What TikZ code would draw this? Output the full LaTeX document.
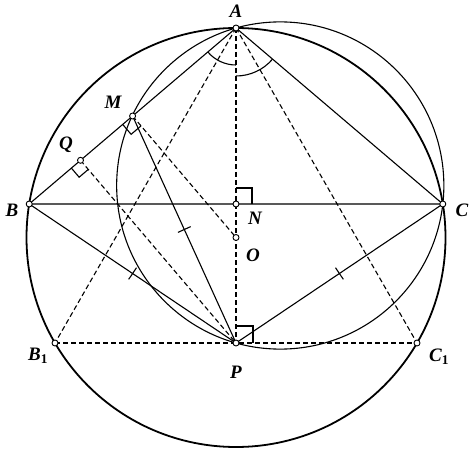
\documentclass[tikz,border=0pt]{standalone}
\usepackage{fontspec}
\setmainfont{Liberation Serif}
\usetikzlibrary{calc}
\begin{document}
\begin{tikzpicture}[x=1pt,y=1pt,
  thin line/.style={line width=1.1pt},
  dashline/.style={line width=1.1pt, dash pattern=on 5pt off 3pt},
  dot/.style={circle, draw, line width=0.9pt, fill=white, inner sep=0pt, minimum size=6pt},
  lab/.style={font=\fontsize{19}{22}\selectfont\bfseries\itshape, inner sep=0pt}]
\useasboundingbox (0,0) rectangle (470,450);
% points
\coordinate (A) at (236,422);
\coordinate (O) at (236,212.5);
\coordinate (B) at (29.2,246);
\coordinate (C) at (442.8,246);
\coordinate (N) at (236,246);
\coordinate (P) at (236,107);
\coordinate (B1) at (55,107);
\coordinate (C1) at (417,107);
\coordinate (M) at (132.6,334);
\coordinate (Q) at (80.5,289.7);
\coordinate (K) at (280.25,264.5);
% circles
\draw[line width=1.8pt] (O) circle[radius=209.5];
\draw[thin line] (K) circle[radius=163.6];
% solid lines
\draw[thin line] (A) -- (B) -- (C) -- cycle;
\draw[thin line] (M) -- (P);
\draw[thin line] (B) -- (P) -- (C);
% dashed lines
\draw[dashline] (A) -- (P);
\draw[dashline] (M) -- (O);
\draw[dashline] (Q) -- (P);
\draw[dashline] (A) -- (B1);
\draw[dashline] (A) -- (C1);
\draw[dashline] (B1) -- (C1);
% angle arcs at A
\draw[thin line] ($(A)+(220.4:37)$) arc[start angle=220.4, end angle=270, radius=37];
\draw[thin line] ($(A)+(270:48)$) arc[start angle=270, end angle=319.6, radius=48];
% right angle marks
\draw[thin line] ($(N)+(0,16)$) -- ++(16,0) -- ++(0,-16);
\draw[thin line] ($(P)+(0,17)$) -- ++(17,0) -- ++(0,-17);
\coordinate (ma) at ($(M)!13pt!(B)$);
\coordinate (mb) at ($(M)!13pt!(O)$);
\draw[thin line] (ma) -- ($(ma)+(mb)-(M)$) -- (mb);
\coordinate (qa) at ($(Q)!12pt!(B)$);
\coordinate (qb) at ($(Q)!12pt!(P)$);
\draw[thin line] (qa) -- ($(qa)+(qb)-(Q)$) -- (qb);
% tick marks
\coordinate (t1) at ($(B)!0.5!(P)$);
\coordinate (t2) at ($(M)!0.5!(P)$);
\coordinate (t3) at ($(C)!0.5!(P)$);
\draw[thin line] ($(t1)!7pt!90:(P)$) -- ($(t1)!7pt!-90:(P)$);
\draw[thin line] ($(t2)!7pt!90:(P)$) -- ($(t2)!7pt!-90:(P)$);
\draw[thin line] ($(t3)!7pt!90:(P)$) -- ($(t3)!7pt!-90:(P)$);
% dots
\foreach \p in {A,B,C,N,O,P,B1,C1,M,Q} \node[dot] at (\p) {};
% labels
\node[lab] (lA) at (236,439) {A};
\node[lab] (lM) at (113,348) {M};
\node[lab] (lQ) at (66,305) {Q};
\node[lab] (lB) at (12,240) {B};
\node[lab] (lN) at (255,232) {N};
\node[lab] (lO) at (253,195) {O};
\node[lab] (lC) at (462,240) {C};
\node[lab] (lB1) at (38,94) {B\textsubscript{\upshape 1}};
\node[lab] (lP) at (236,78) {P};
\node[lab] (lC1) at (439,93) {C\textsubscript{\upshape 1}};
\end{tikzpicture}
\end{document}
